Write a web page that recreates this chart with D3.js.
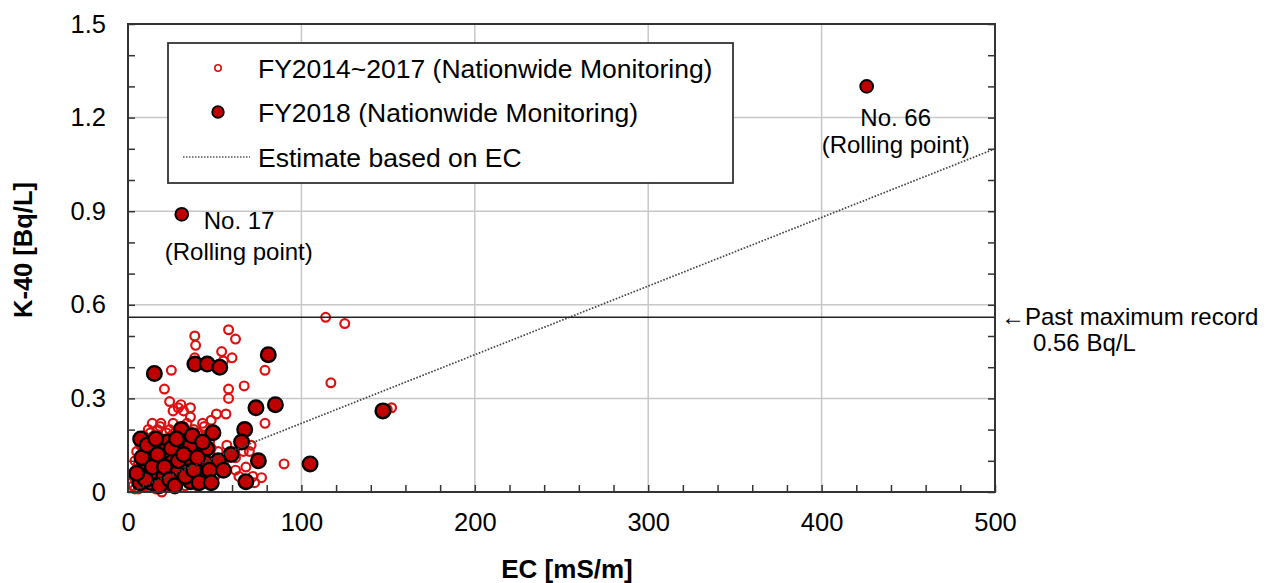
<!DOCTYPE html>
<html>
<head>
<meta charset="utf-8">
<script src="https://cdn.jsdelivr.net/npm/d3@7/dist/d3.min.js"></script>
<style>
  html, body { margin: 0; padding: 0; background: #fff; }
  svg { display: block; font-family: "Liberation Sans", Arial, sans-serif; }
</style>
</head>
<body>
<svg id="chart" width="1272" height="583"></svg>
<script>
// FY2014~2017 nationwide monitoring: [EC (mS/m), K-40 (Bq/L)]
const pastPoints = [
  [114, 0.56], [125, 0.54], [58, 0.52], [62, 0.49], [38.5, 0.50], [39, 0.47],
  [54, 0.45], [55, 0.42], [60, 0.43], [38.5, 0.43], [25, 0.39], [79, 0.39],
  [117, 0.35], [21, 0.33], [58, 0.33], [58, 0.30], [67, 0.34], [24, 0.29],
  [26, 0.26], [30.5, 0.28], [32, 0.26], [36, 0.27], [29, 0.27], [56.5, 0.25],
  [51, 0.25], [48, 0.23], [79, 0.22], [152, 0.27], [149.5, 0.265], [34, 0.22],
  [18.5, 0.21], [11.7, 0.20], [40, 0.19], [57, 0.15], [71, 0.15], [66.5, 0.13],
  [70, 0.13], [90, 0.09], [62, 0.07], [77, 0.046], [72, 0.05], [73, 0.03],
  [19.5, 0.0], [44, 0.21], [41, 0.17], [47, 0.16], [52, 0.13], [55, 0.09],
  [62, 0.11], [64, 0.05], [68, 0.08], [50, 0.05], [46, 0.03], [40, 0.02],
  [33, 0.02], [27, 0.01], [22, 0.02], [16, 0.01], [10, 0.02], [5, 0.03],
  [4, 0.06], [6, 0.09], [8, 0.12], [9, 0.05], [11, 0.08], [12, 0.15],
  [14, 0.11], [15, 0.18], [16, 0.07], [17, 0.14], [18, 0.04], [19, 0.17],
  [20, 0.12], [21, 0.06], [22, 0.19], [23, 0.09], [24, 0.14], [25, 0.03],
  [26, 0.17], [27, 0.07], [28, 0.12], [29, 0.20], [30, 0.05], [31, 0.14],
  [32, 0.09], [33, 0.18], [34, 0.06], [35, 0.10], [36, 0.16], [37, 0.04],
  [38, 0.12], [39, 0.08], [40, 0.14], [42, 0.10], [43, 0.05], [45, 0.12],
  [47, 0.08], [7, 0.15], [13, 0.03], [15, 0.05], [18, 0.09], [20, 0.15],
  [23, 0.05], [27, 0.15], [30, 0.10], [34, 0.15], [37, 0.19], [41, 0.07],
  [44, 0.04], [49, 0.11], [6, 0.01], [9, 0.18], [26, 0.22], [17, 0.20],
  [14, 0.22], [31, 0.18], [43, 0.22], [36, 0.24], [48, 0.19], [53, 0.07],
  [3, 0.02], [4, 0.10], [5, 0.13], [6, 0.05], [7, 0.08], [8, 0.02],
  [8, 0.16], [9, 0.11], [10, 0.14], [10, 0.06], [11, 0.03], [11, 0.17],
  [12, 0.09], [13, 0.12], [13, 0.19], [14, 0.06], [15, 0.14], [16, 0.10],
  [16, 0.16], [17, 0.03], [17, 0.11], [18, 0.13], [19, 0.07], [19, 0.22],
  [20, 0.04], [21, 0.10], [21, 0.17], [22, 0.13], [23, 0.02], [23, 0.16],
  [24, 0.08], [24, 0.20], [25, 0.11], [25, 0.18], [26, 0.05], [27, 0.11],
  [27, 0.19], [28, 0.03], [28, 0.16], [29, 0.09], [29, 0.13], [30, 0.17],
  [31, 0.04], [31, 0.11], [32, 0.15], [32, 0.21], [33, 0.07], [33, 0.12],
  [34, 0.04], [35, 0.18], [35, 0.08], [36, 0.12], [37, 0.07], [37, 0.15],
  [38, 0.10], [38, 0.20], [39, 0.05], [39, 0.15], [40, 0.11], [41, 0.04],
  [42, 0.13], [42, 0.18], [43, 0.08], [44, 0.15], [45, 0.06], [46, 0.10],
  [48, 0.14], [50, 0.08], [3, 0.05], [5, 0.07], [4, 0.01]
];

// FY2018 nationwide monitoring: [EC (mS/m), K-40 (Bq/L)]
const fy2018Points = [
  [15.2, 0.38], [38.6, 0.41], [45.7, 0.41], [52.9, 0.40], [80.9, 0.44],
  [73.8, 0.27], [85, 0.28], [147, 0.26], [105, 0.09], [7.3, 0.17],
  [30.7, 0.20], [49, 0.19], [67.3, 0.20], [65.5, 0.16], [22.7, 0.16],
  [31, 0.16], [35, 0.13], [13.4, 0.13], [45.4, 0.14], [59.4, 0.12],
  [75.2, 0.10], [52.1, 0.10], [9.8, 0.09], [19.8, 0.09], [23.2, 0.11],
  [26, 0.108], [30, 0.076], [44.4, 0.094], [42.5, 0.06], [25.2, 0.049],
  [16.9, 0.046], [6.9, 0.03], [13.6, 0.03], [36.2, 0.033], [68, 0.033],
  [12.7, 0.06], [36, 0.15], [34, 0.11], [20, 0.13], [28, 0.06],
  [8, 0.11], [10, 0.04], [11, 0.15], [14, 0.08], [17, 0.12], [18, 0.02],
  [21, 0.08], [24, 0.04], [25, 0.14], [27, 0.02], [29, 0.10], [32, 0.12],
  [33, 0.05], [38, 0.07], [40, 0.11], [41, 0.03], [47, 0.07], [5, 0.06],
  [16, 0.17], [28, 0.17], [37, 0.18], [43, 0.16], [55, 0.07], [48, 0.03]
];

// Rolling points (FY2018), labelled individually
const rollingPoints = [
  { no: "No. 17", ec: 31, k: 0.89 },
  { no: "No. 66", ec: 426, k: 1.30 }
];

// Estimate of K-40 from EC (line end points)
const estimateLine = [[5, 0.011], [500, 1.10]];

// Past maximum record
const pastMax = 0.56;

const xTicksMajor = [0, 100, 200, 300, 400, 500];
const yTicksMajor = [0, 0.3, 0.6, 0.9, 1.2, 1.5];

const svg = d3.select("#chart");
const plot = { left: 128, right: 995, top: 24, bottom: 492 };

const x = d3.scaleLinear().domain([0, 500]).range([plot.left, plot.right]);
const y = d3.scaleLinear().domain([0, 1.5]).range([plot.bottom, plot.top]);

const red = "#c00000";
const ringRed = "#dd1111";

// grid
const grid = svg.append("g");
grid.selectAll("line.gx").data(xTicksMajor.slice(1, -1)).join("line")
  .attr("x1", d => x(d)).attr("x2", d => x(d))
  .attr("y1", plot.top).attr("y2", plot.bottom)
  .attr("stroke", "#c8c8c8").attr("stroke-width", 1.5);
grid.selectAll("line.gy").data(yTicksMajor.slice(1, -1)).join("line")
  .attr("y1", d => y(d)).attr("y2", d => y(d))
  .attr("x1", plot.left).attr("x2", plot.right)
  .attr("stroke", "#c8c8c8").attr("stroke-width", 1.5);

// axes with inward ticks
const fmtY = d => {
  const lab = yTicksMajor.find(t => Math.abs(t - d) < 1e-9);
  return lab === undefined ? "" : (lab === 0 ? "0" : d3.format(".1f")(lab));
};
const fmtX = d => xTicksMajor.includes(Math.round(d)) && Math.abs(d % 100) < 1e-9 ? String(d) : "";

const yAxis = d3.axisLeft(y).tickValues(d3.range(0, 16).map(i => i / 10))
  .tickSize(-7).tickPadding(22).tickFormat(fmtY);
const xAxis = d3.axisBottom(x).tickValues(d3.range(0, 26).map(i => i * 20))
  .tickSize(-7).tickPadding(21).tickFormat(fmtX);
const yAxisR = d3.axisRight(y).tickValues(d3.range(0, 16).map(i => i / 10))
  .tickSize(-7).tickFormat("");

function styleAxis(g) {
  g.select(".domain").remove();
  g.selectAll(".tick line").attr("stroke", "#333").attr("stroke-width", 1.5);
  g.selectAll(".tick text").attr("fill", "#000").style("font-size", "25.5px")
    .style("font-family", '"Liberation Sans", Arial, sans-serif');
}
svg.append("g").attr("transform", `translate(${plot.left},0)`).call(yAxis).call(styleAxis);
svg.append("g").attr("transform", `translate(0,${plot.bottom})`).call(xAxis).call(styleAxis);
svg.append("g").attr("transform", `translate(${plot.right},0)`).call(yAxisR).call(styleAxis);

// FY2014~2017 rings
svg.append("g").selectAll("circle").data(pastPoints).join("circle")
  .attr("cx", d => x(d[0])).attr("cy", d => y(d[1])).attr("r", 4.4)
  .attr("fill", "none").attr("stroke", ringRed).attr("stroke-width", 2.2);

// FY2018 filled markers
svg.append("g").selectAll("circle").data(fy2018Points).join("circle")
  .attr("cx", d => x(d[0])).attr("cy", d => y(d[1])).attr("r", 7.3)
  .attr("fill", red).attr("stroke", "#000").attr("stroke-width", 2.4);

svg.append("g").selectAll("circle").data(rollingPoints).join("circle")
  .attr("cx", d => x(d.ec)).attr("cy", d => y(d.k)).attr("r", 6.4)
  .attr("fill", red).attr("stroke", "#000").attr("stroke-width", 1.9);

// estimate line
svg.append("path").datum(estimateLine)
  .attr("d", d3.line().x(d => x(d[0])).y(d => y(d[1])))
  .attr("fill", "none").attr("stroke", "#444").attr("stroke-width", 1.7)
  .attr("stroke-dasharray", "1.6,1.6");

// past maximum line
svg.append("line")
  .attr("x1", plot.left).attr("x2", plot.right)
  .attr("y1", y(pastMax)).attr("y2", y(pastMax))
  .attr("stroke", "#222").attr("stroke-width", 1.5);

// frame
svg.append("rect")
  .attr("x", plot.left).attr("y", plot.top)
  .attr("width", plot.right - plot.left).attr("height", plot.bottom - plot.top)
  .attr("fill", "none").attr("stroke", "#333").attr("stroke-width", 2);

// axis titles
svg.append("text").attr("x", 567).attr("y", 578).attr("text-anchor", "middle")
  .style("font-size", "26px").style("font-weight", "bold").text("EC [mS/m]");
svg.append("text").attr("transform", "translate(32,250) rotate(-90)")
  .attr("text-anchor", "middle")
  .style("font-size", "25.5px").style("font-weight", "bold").text("K-40 [Bq/L]");

// rolling point labels
const ann = svg.append("g").style("font-size", "24px");
ann.append("text").attr("x", x(rollingPoints[0].ec) + 22).attr("y", y(rollingPoints[0].k) + 15)
  .text(rollingPoints[0].no);
ann.append("text").attr("x", x(rollingPoints[0].ec) + 57).attr("y", y(rollingPoints[0].k) + 46)
  .attr("text-anchor", "middle").text("(Rolling point)");
ann.append("text").attr("x", x(rollingPoints[1].ec) + 29).attr("y", y(rollingPoints[1].k) + 40)
  .attr("text-anchor", "middle").text(rollingPoints[1].no);
ann.append("text").attr("x", x(rollingPoints[1].ec) + 29).attr("y", y(rollingPoints[1].k) + 67)
  .attr("text-anchor", "middle").text("(Rolling point)");

// past maximum label
ann.append("text").attr("x", plot.right + 6).attr("y", y(pastMax) + 8)
  .text("\u2190Past maximum record");
ann.append("text").attr("x", plot.right + 38).attr("y", y(pastMax) + 34)
  .text(`${pastMax} Bq/L`);

// legend
const lg = svg.append("g");
lg.append("rect").attr("x", 168).attr("y", 43).attr("width", 565).attr("height", 140)
  .attr("fill", "#fff").attr("stroke", "#333").attr("stroke-width", 1.8);
const legendItems = [
  { label: "FY2014~2017 (Nationwide Monitoring)", kind: "ring", cy: 68 },
  { label: "FY2018 (Nationwide Monitoring)", kind: "dot", cy: 112 },
  { label: "Estimate based on EC", kind: "line", cy: 157 }
];
legendItems.forEach(it => {
  if (it.kind === "ring") {
    lg.append("circle").attr("cx", 218).attr("cy", it.cy).attr("r", 3.2)
      .attr("fill", "none").attr("stroke", ringRed).attr("stroke-width", 1.6);
  } else if (it.kind === "dot") {
    lg.append("circle").attr("cx", 218).attr("cy", it.cy).attr("r", 5.8)
      .attr("fill", red).attr("stroke", "#000").attr("stroke-width", 1.8);
  } else {
    lg.append("line").attr("x1", 183).attr("x2", 250).attr("y1", it.cy).attr("y2", it.cy)
      .attr("stroke", "#555").attr("stroke-width", 1.5).attr("stroke-dasharray", "1.5,1.5");
  }
  lg.append("text").attr("x", 258).attr("y", it.cy + 9.5)
    .style("font-size", "26.5px").text(it.label);
});
</script>
</body>
</html>
